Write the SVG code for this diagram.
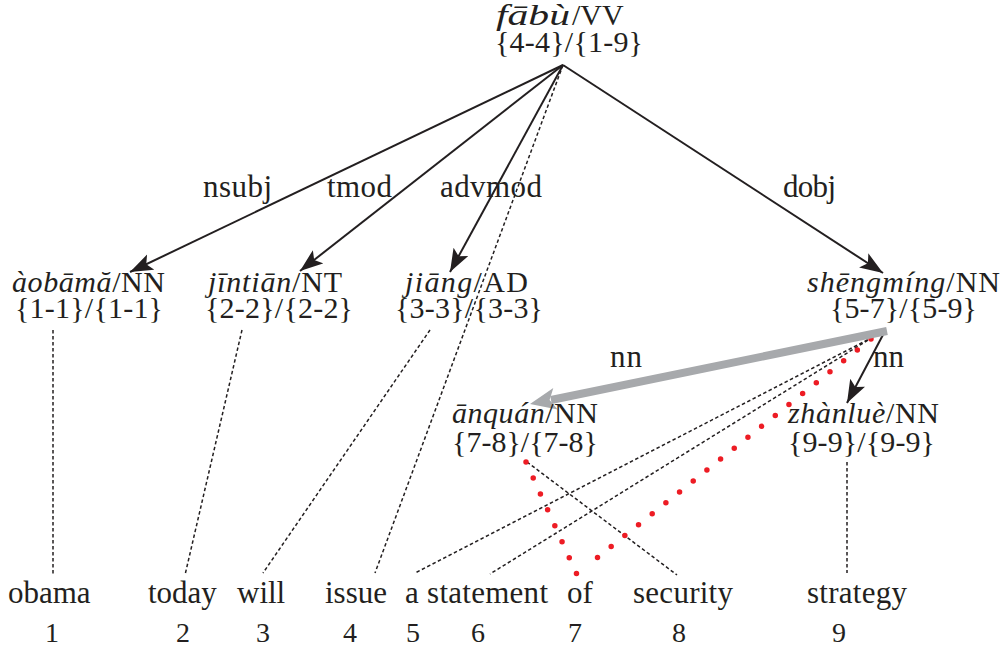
<svg xmlns="http://www.w3.org/2000/svg" width="1003" height="648" viewBox="0 0 1003 648">
<style>
text{font-family:"Liberation Serif","Times New Roman",serif;fill:#231f20}
.n{font-size:30px}
.it{font-style:italic}
.lbl{font-size:31px}
.w{font-size:31px}
.num{font-size:28px;text-anchor:middle}
.dash{fill:none;stroke:#231f20;stroke-width:1.5;stroke-dasharray:3.5 2.5}
.arr{fill:none;stroke:#231f20;stroke-width:2;marker-end:url(#ah)}
.red{fill:none;stroke:#ed1c24;stroke-width:5.5;stroke-linecap:round;stroke-dasharray:0 17.5}
</style>
<defs>
<marker id="ah" markerUnits="userSpaceOnUse" markerWidth="26" markerHeight="18" refX="23" refY="8.5" orient="auto">
<path d="M0,0 L23,8.5 L0,17 L5,8.5 z" fill="#231f20"/>
</marker>
</defs>
<rect width="1003" height="648" fill="#ffffff"/>
<g id="connectors">
<line class="dash" x1="53" y1="330" x2="53" y2="575"/>
<line class="dash" x1="242" y1="330" x2="185" y2="575"/>
<line class="dash" x1="430" y1="330" x2="263" y2="573"/>
<line class="dash" x1="563" y1="65" x2="375" y2="573"/>
<line class="dash" x1="873" y1="337" x2="415" y2="573"/>
<line class="dash" x1="873" y1="337" x2="490" y2="574"/>
<line class="dash" x1="527" y1="462" x2="677" y2="575"/>
<line class="dash" x1="847" y1="462" x2="847" y2="573"/>
<line class="red" x1="526" y1="462" x2="578" y2="577"/>
<line class="red" x1="871" y1="339" x2="588" y2="565" stroke-dasharray="0 17.85"/>
<line class="arr" x1="563" y1="65" x2="130" y2="272"/>
<line class="arr" x1="563" y1="65" x2="300" y2="271"/>
<line class="arr" x1="563" y1="65" x2="450" y2="272"/>
<line class="arr" x1="563" y1="65" x2="883" y2="273"/>
<line class="arr" x1="885" y1="331" x2="847" y2="403"/>
<line x1="887" y1="331" x2="551" y2="400" stroke="#a7a9ac" stroke-width="8"/>
<polygon points="530,404 553.3,388 549.6,400 557.7,409.6" fill="#a7a9ac"/>
<text class="lbl" x="203" y="197" textLength="69" lengthAdjust="spacing">nsubj</text>
<text class="lbl" x="327" y="197" textLength="65" lengthAdjust="spacing">tmod</text>
<text class="lbl" x="440" y="197" textLength="102" lengthAdjust="spacing">advmod</text>
<text class="lbl" x="783" y="197" textLength="53" lengthAdjust="spacing">dobj</text>
<text class="lbl" x="610" y="367" textLength="32" lengthAdjust="spacing">nn</text>
<text class="lbl" x="873" y="367" textLength="31" lengthAdjust="spacing">nn</text>
</g>
<g id="node-fabu">
<text class="n it" x="496" y="25" textLength="74" lengthAdjust="spacingAndGlyphs">fābù</text>
<text class="n" x="572" y="25">/VV</text>
<text class="n" x="495" y="52" textLength="148" lengthAdjust="spacing">{4-4}/{1-9}</text>
</g>
<g id="node-aobama">
<text class="n" x="12" y="292" textLength="153" lengthAdjust="spacing"><tspan class="it">àobāmă</tspan>/NN</text>
<text class="n" x="15" y="318" textLength="148" lengthAdjust="spacing">{1-1}/{1-1}</text>
</g>
<g id="node-jintian">
<text class="n" x="208" y="292" textLength="134" lengthAdjust="spacing"><tspan class="it">jīntiān</tspan>/NT</text>
<text class="n" x="205" y="318" textLength="148" lengthAdjust="spacing">{2-2}/{2-2}</text>
</g>
<g id="node-jiang">
<text class="n" x="405" y="292" textLength="123" lengthAdjust="spacing"><tspan class="it">jiāng</tspan>/AD</text>
<text class="n" x="395" y="318" textLength="148" lengthAdjust="spacing">{3-3}/{3-3}</text>
</g>
<g id="node-shengming">
<text class="n" x="807" y="292" textLength="193" lengthAdjust="spacing"><tspan class="it">shēngmíng</tspan>/NN</text>
<text class="n" x="830" y="318" textLength="147" lengthAdjust="spacing">{5-7}/{5-9}</text>
</g>
<g id="node-anquan">
<text class="n" x="452" y="423" textLength="146" lengthAdjust="spacing"><tspan class="it">ānquán</tspan>/NN</text>
<text class="n" x="452" y="452" textLength="146" lengthAdjust="spacing">{7-8}/{7-8}</text>
</g>
<g id="node-zhanlue">
<text class="n" x="788" y="423" textLength="151" lengthAdjust="spacing"><tspan class="it">zhànluè</tspan>/NN</text>
<text class="n" x="788" y="452" textLength="147" lengthAdjust="spacing">{9-9}/{9-9}</text>
</g>
<g id="words">
<g id="w1"><text class="w" x="8" y="603">obama</text><text class="num" x="52" y="642">1</text></g>
<g id="w2"><text class="w" x="148" y="603">today</text><text class="num" x="183" y="642">2</text></g>
<g id="w3"><text class="w" x="237" y="603">will</text><text class="num" x="263" y="642">3</text></g>
<g id="w4"><text class="w" x="325" y="603">issue</text><text class="num" x="350" y="642">4</text></g>
<g id="w5-6"><text class="w" x="405" y="603" textLength="143" lengthAdjust="spacing">a statement</text><text class="num" x="413" y="642">5</text><text class="num" x="478" y="642">6</text></g>
<g id="w7"><text class="w" x="567" y="603">of</text><text class="num" x="575" y="642">7</text></g>
<g id="w8"><text class="w" x="633" y="603" textLength="100" lengthAdjust="spacing">security</text><text class="num" x="679" y="642">8</text></g>
<g id="w9"><text class="w" x="807" y="603" textLength="100" lengthAdjust="spacing">strategy</text><text class="num" x="839" y="642">9</text></g>
</g>
</svg>
